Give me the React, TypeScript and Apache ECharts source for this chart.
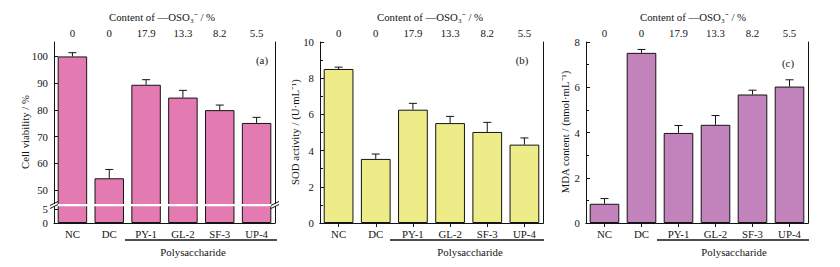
import React, { useEffect, useRef } from "react";
import * as echarts from "echarts";

const categories = ["NC", "DC", "PY-1", "GL-2", "SF-3", "UP-4"];
const sulfateContent = ["0", "0", "17.9", "13.3", "8.2", "5.5"];
const viability = [100, 54.4, 89.4, 84.6, 79.9, 75.1];
const viabilityErr = [1.4, 3.3, 1.9, 2.7, 1.9, 2.1];
const sod = [8.51, 3.54, 6.26, 5.52, 5.03, 4.33];
const sodErr = [0.1, 0.27, 0.35, 0.37, 0.53, 0.37];
const mda = [0.85, 7.52, 3.98, 4.34, 5.68, 6.03];
const mdaErr = [0.23, 0.15, 0.33, 0.41, 0.19, 0.3];
const viabilityLabels = [50, 60, 70, 80, 90, 100];
const viabilityLowLabels = [0, 5];

const FONT = "Liberation Serif";
const INK = "#141414";
const FS = 10.8;

const PINK = "#E37AB1";
const YELLOW = "#EEEC89";
const PURPLE = "#C283BC";

const G = [
  { left: 54, top: 42, width: 221, height: 163 },
  { left: 54, top: 205, width: 221, height: 18 },
  { left: 320, top: 42, width: 223, height: 181 },
  { left: 586, top: 42, width: 222, height: 181 },
];

function errRender(params: any, api: any) {
  const x = api.value(0);
  const v = api.value(1);
  const e = api.value(2);
  const p0 = api.coord([x, v]);
  const p1 = api.coord([x, v + e]);
  const half = 4;
  const st = { stroke: INK, lineWidth: 1 };
  return {
    type: "group",
    children: [
      { type: "line", shape: { x1: p0[0], y1: p0[1], x2: p1[0], y2: p1[1] }, style: st },
      { type: "line", shape: { x1: p1[0] - half, y1: p1[1], x2: p1[0] + half, y2: p1[1] }, style: st },
    ],
  };
}

function topX(gridIndex: number) {
  return {
    type: "category",
    gridIndex,
    position: "top",
    data: sulfateContent,
    axisLine: { lineStyle: { color: INK, width: 1 } },
    axisTick: { show: true, inside: true, alignWithLabel: true, length: 4, lineStyle: { color: INK } },
    axisLabel: { color: INK, fontFamily: FONT, fontSize: FS, margin: 4 },
  };
}
function bottomX(gridIndex: number) {
  return {
    type: "category",
    gridIndex,
    position: "bottom",
    data: categories,
    axisLine: { lineStyle: { color: INK, width: 1 } },
    axisTick: { show: true, inside: true, alignWithLabel: true, length: 4, lineStyle: { color: INK } },
    axisLabel: { color: INK, fontFamily: FONT, fontSize: FS, margin: 5 },
  };
}
function rightY(gridIndex: number) {
  return {
    type: "value",
    gridIndex,
    position: "right",
    min: 0,
    max: 1,
    axisLine: { show: true, lineStyle: { color: INK, width: 1 } },
    axisTick: { show: false },
    axisLabel: { show: false },
    splitLine: { show: false },
  };
}
const yLabel = { color: INK, fontFamily: FONT, fontSize: FS, margin: 6 };
const yTick = { show: true, inside: true, length: 4, lineStyle: { color: INK } };

function barSeries(xi: number, yi: number, data: number[], color: string) {
  return {
    type: "bar",
    xAxisIndex: xi,
    yAxisIndex: yi,
    data,
    barWidth: "80%",
    clip: true,
    itemStyle: { color, borderColor: INK, borderWidth: 1 },
  };
}
function errSeries(xi: number, yi: number, vals: number[], errs: number[]) {
  return {
    type: "custom",
    xAxisIndex: xi,
    yAxisIndex: yi,
    renderItem: errRender,
    encode: { x: 0, y: 1 },
    data: vals.map((v, i) => [i, v, errs[i]]),
    z: 5,
  };
}

const txt = (x: number, y: number, text: string) => ({
  type: "text",
  x,
  y,
  z: 100,
  style: {
    text,
    fill: INK,
    font: `${FS}px ${FONT}`,
    fontFamily: FONT,
    fontSize: FS,
    align: "center",
    verticalAlign: "middle",
  },
});
const rot = (x: number, y: number, text: string) => ({
  type: "text",
  x,
  y,
  z: 100,
  rotation: Math.PI / 2,
  style: {
    text,
    fill: INK,
    font: `${FS}px ${FONT}`,
    fontFamily: FONT,
    fontSize: FS,
    align: "center",
    verticalAlign: "middle",
  },
});
const ln = (x1: number, y1: number, x2: number, y2: number, w = 1) => ({
  type: "line",
  z: 101,
  shape: { x1, y1, x2, y2 },
  style: { stroke: INK, lineWidth: w },
});

export default function App() {
  const ref = useRef<HTMLDivElement>(null);
  useEffect(() => {
    if (!ref.current) return;
    const chart = echarts.init(ref.current, null, { renderer: "svg" });
    const title = "Content of \u2014OSO\u2083\u207B / %";
    const titleX = [162, 430, 693];
    const polyX = [193, 470, 734];
    const lineStart = [125, 390, 657];
    const lineEnd = [277, 544, 809];
    const option: any = {
      animation: false,
      backgroundColor: "#ffffff",
      textStyle: { fontFamily: FONT },
      grid: G.map((g) => ({ ...g, containLabel: false })),
      xAxis: [topX(0), bottomX(1), topX(2), bottomX(2), topX(3), bottomX(3)],
      yAxis: [
        {
          type: "value",
          gridIndex: 0,
          min: 44.4,
          max: 105.4,
          axisLine: { show: true, lineStyle: { color: INK } },
          axisTick: { ...yTick, customValues: viabilityLabels },
          axisLabel: { ...yLabel, customValues: viabilityLabels },
          splitLine: { show: false },
        },
        rightY(0),
        {
          type: "value",
          gridIndex: 1,
          min: 0,
          max: 6.43,
          axisLine: { show: true, lineStyle: { color: INK } },
          axisTick: { ...yTick, customValues: viabilityLowLabels },
          axisLabel: { ...yLabel, customValues: viabilityLowLabels },
          splitLine: { show: false },
        },
        rightY(1),
        {
          type: "value",
          gridIndex: 2,
          min: 0,
          max: 10,
          interval: 2,
          axisLine: { show: true, lineStyle: { color: INK } },
          axisTick: yTick,
          minorTick: { show: true, splitNumber: 2, length: 3, lineStyle: { color: INK } },
          axisLabel: yLabel,
          splitLine: { show: false },
        },
        rightY(2),
        {
          type: "value",
          gridIndex: 3,
          min: 0,
          max: 8,
          interval: 2,
          axisLine: { show: true, lineStyle: { color: INK } },
          axisTick: yTick,
          minorTick: { show: true, splitNumber: 2, length: 3, lineStyle: { color: INK } },
          axisLabel: yLabel,
          splitLine: { show: false },
        },
        rightY(3),
      ],
      series: [
        barSeries(0, 0, viability, PINK),
        errSeries(0, 0, viability, viabilityErr),
        barSeries(1, 2, viability, PINK),
        barSeries(3, 4, sod, YELLOW),
        errSeries(3, 4, sod, sodErr),
        barSeries(5, 6, mda, PURPLE),
        errSeries(5, 6, mda, mdaErr),
      ],
      graphic: [
        ...[0, 1, 2].map((i) => txt(titleX[i], 17, title)),
        txt(262, 60, "(a)"),
        txt(522, 60, "(b)"),
        txt(788, 63, "(c)"),
        rot(25, 132, "Cell viability / %"),
        rot(295, 132, "SOD activity / (U\u00B7mL\u207B\u00B9)"),
        rot(565, 132, "MDA content / (nmol\u00B7mL\u207B\u00B9)"),
        ...[0, 1, 2].map((i) => ln(lineStart[i], 240, lineEnd[i], 240, 1.3)),
        ...[0, 1, 2].map((i) => txt(polyX[i], 252, "Polysaccharide")),
        {
          type: "rect",
          z: 100,
          shape: { x: 50, y: 204, width: 230, height: 2.2 },
          style: { fill: "#ffffff" },
        },
        ln(50, 205.5, 58, 201.5),
        ln(50, 208.5, 58, 204.5),
        ln(271, 205.5, 279, 201.5),
        ln(271, 208.5, 279, 204.5),
      ],
    };
    chart.setOption(option);
    return () => chart.dispose();
  }, []);
  return (
    <div
      ref={ref}
      style={{ position: "absolute", left: 0, top: 0, width: 840, height: 267, background: "#fff" }}
    />
  );
}
